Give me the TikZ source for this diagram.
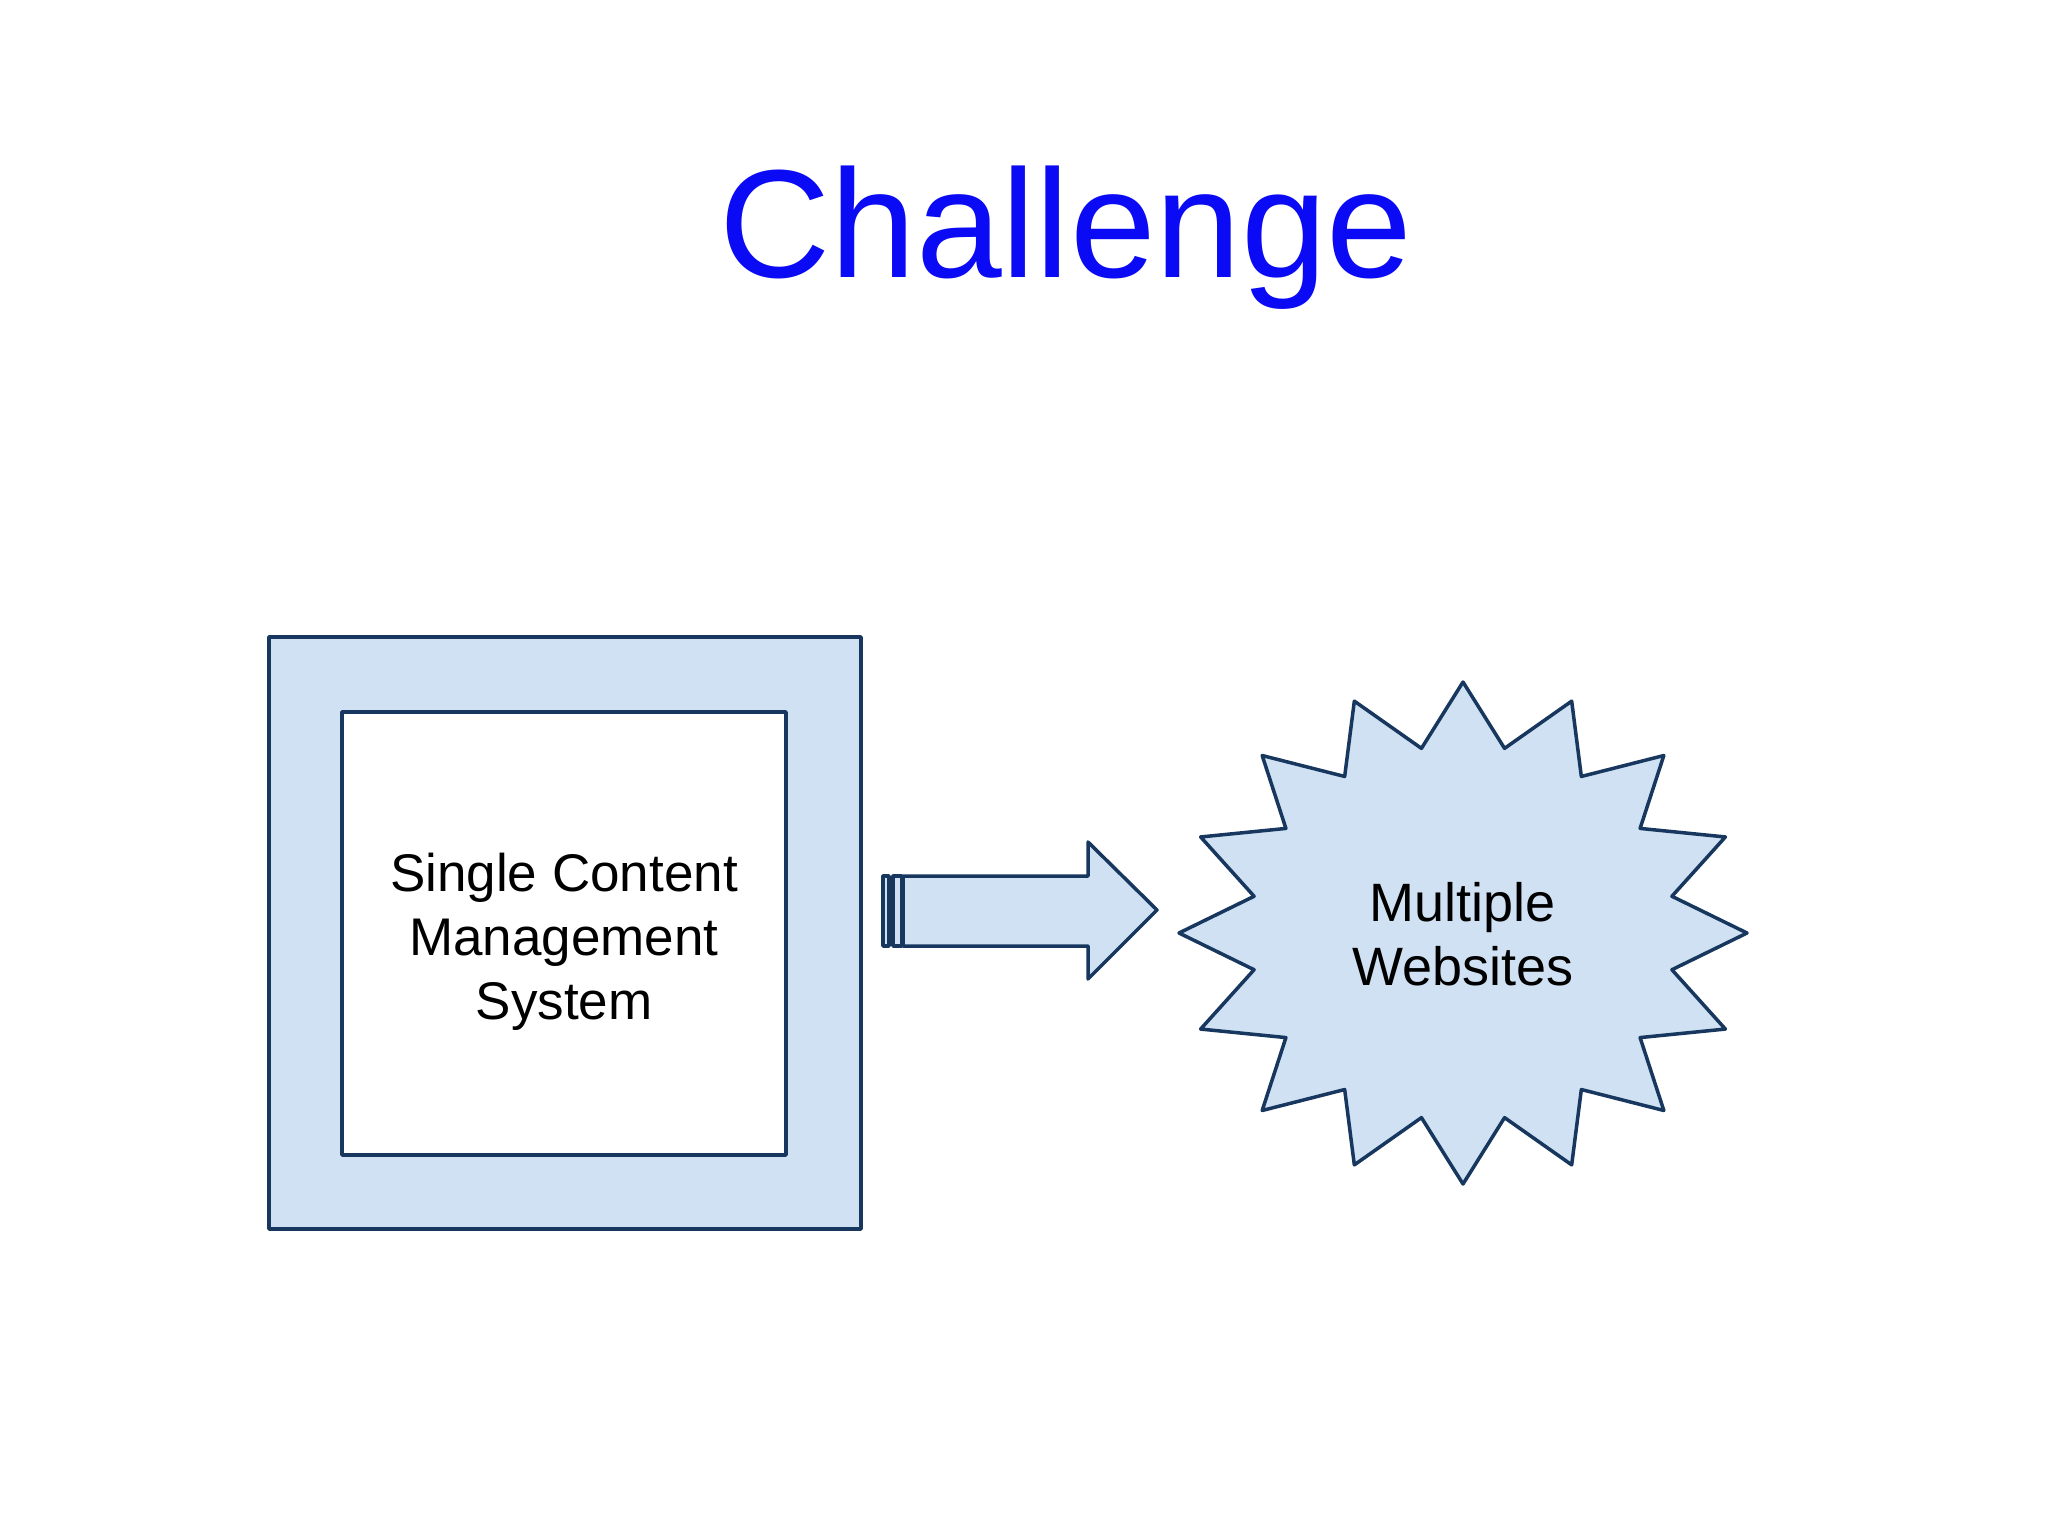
\documentclass[tikz,border=0pt]{standalone}
\usepackage{fontspec}
\setmainfont{Liberation Sans}
\definecolor{navy}{RGB}{23,55,94}
\definecolor{lightfill}{RGB}{207,225,243}
\definecolor{titleblue}{RGB}{10,10,245}
\tikzset{
  shapeline/.style={draw=navy, line width=3.5pt, line join=round},
  lbl/.style={inner sep=0pt, align=center, font=\fontsize{53}{64}\selectfont, text=black},
}
\begin{document}
\begin{tikzpicture}[x=1pt,y=-1pt]
\useasboundingbox[fill=white] (0,0) rectangle (2048,1536);
% title
\node[anchor=base, inner sep=0pt, text=titleblue, font=\fontsize{154}{170}\selectfont] (title) at (1066,277) {Challenge};
% outer and inner boxes
\draw[shapeline, fill=lightfill] (269,637) rectangle (861,1229);
\draw[shapeline, fill=white] (342,712) rectangle (786,1155);
\node[lbl] (cms) at (564,942) {Single Content\\Management\\System};
% block arrow
\coordinate (ahead) at (1157,910);
\draw[shapeline, fill=lightfill] (883,876) rectangle (889,946);
\draw[shapeline, fill=lightfill] (893,876) rectangle (902,946);
\draw[shapeline, fill=lightfill] (903,876) -- (1088,876) -- (1088,842) -- (ahead) -- (1088,979) -- (1088,946) -- (903,946) -- cycle;
% star
\draw[shapeline, fill=lightfill] (1463,682)
  \foreach \i in {1,...,31}{ -- ({1463+284*(1-0.25*mod(\i,2))*sin(\i*11.25)}, {933-251*(1-0.25*mod(\i,2))*cos(\i*11.25)}) } -- cycle;
\node[lbl, font=\fontsize{54}{64}\selectfont] (web) at (1463,934) {Multiple\\Websites};
\end{tikzpicture}
\end{document}
